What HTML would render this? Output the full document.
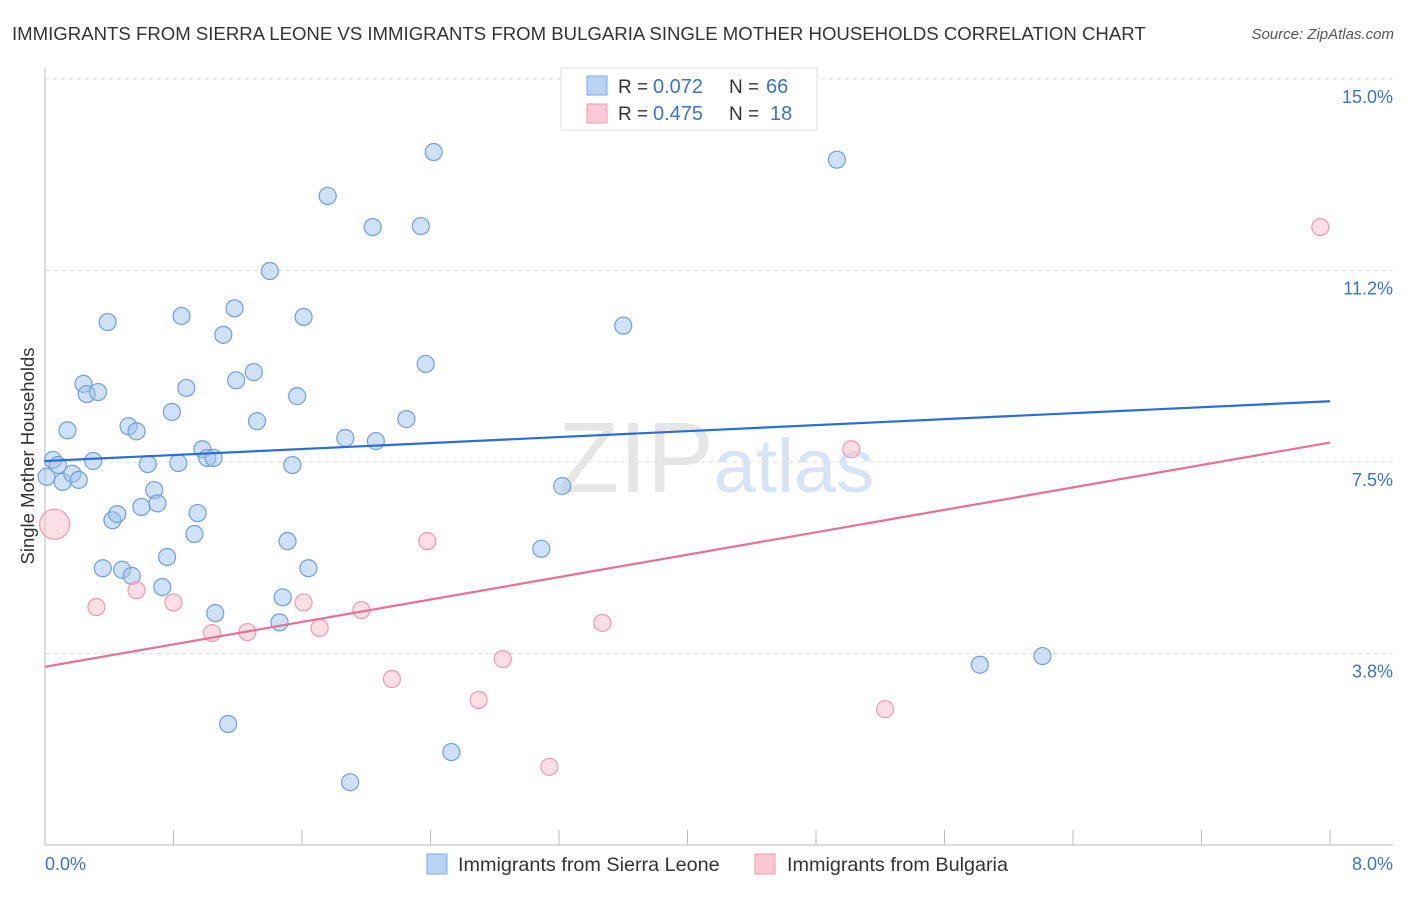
<!DOCTYPE html>
<html><head><meta charset="utf-8"><style>
body{margin:0;background:#fff;font-family:"Liberation Sans",sans-serif}
svg text{font-family:"Liberation Sans",sans-serif}
</style></head><body>
<svg id="c" width="1406" height="892">
<text x="12" y="40" font-size="18.6" fill="#333">IMMIGRANTS FROM SIERRA LEONE VS IMMIGRANTS FROM BULGARIA SINGLE MOTHER HOUSEHOLDS CORRELATION CHART</text>
<text x="1394" y="39" font-size="15" fill="#555" text-anchor="end" font-style="italic">Source: ZipAtlas.com</text>
<text x="558" y="492" font-size="100" fill="#e6e6e6" font-family="Liberation Serif">ZIP<tspan fill="#d6e4f5" font-family="Liberation Sans" font-size="76">atlas</tspan></text>
<g id="grid"></g><g id="axes"></g><g id="pts"></g><g id="lines"></g>
<text transform="translate(34,456) rotate(-90)" font-size="18.5" fill="#333" text-anchor="middle">Single Mother Households</text>
<text x="45" y="870" font-size="18" fill="#3b73c9">0.0%</text>
<text x="1393" y="870" font-size="18" fill="#3b73c9" text-anchor="end">8.0%</text>
<g>
<rect x="561" y="68" width="256" height="62" fill="#fff" stroke="#ddd"/>
<rect x="587" y="76" width="20" height="19" fill="#b9d3f5" stroke="#7fa8e0"/>
<rect x="587" y="104" width="20" height="19" fill="#fac8d6" stroke="#ef9ab3"/>
<text x="618" y="93" font-size="19" fill="#333">R =</text>
<text x="653" y="93" font-size="20" fill="#3b73c9">0.072</text>
<text x="729" y="93" font-size="19" fill="#333">N =</text>
<text x="766" y="93" font-size="20" fill="#3b73c9">66</text>
<text x="618" y="120" font-size="19" fill="#333">R =</text>
<text x="653" y="120" font-size="20" fill="#3b73c9">0.475</text>
<text x="729" y="120" font-size="19" fill="#333">N =</text>
<text x="770" y="120" font-size="20" fill="#3b73c9">18</text>
</g>
<g>
<rect x="427" y="854" width="20" height="20" fill="#b9d3f5" stroke="#7fa8e0"/>
<text x="458" y="871" font-size="19.8" fill="#333">Immigrants from Sierra Leone</text>
<rect x="755" y="854" width="20" height="20" fill="#fac8d6" stroke="#ef9ab3"/>
<text x="787" y="871" font-size="19.8" fill="#333">Immigrants from Bulgaria</text>
</g>
</svg>
<script>
const yTicks=[3.75,7.5,11.25,15];
const yTickLabels=["3.8%","7.5%","11.2%","15.0%"];
const xTicks=[0,0.8,1.6,2.4,3.2,4.0,4.8,5.6,6.4,7.2,8.0];
const blueX=[0.05,0.01,0.08,0.11,0.17,0.21,0.14,0.24,0.26,0.33,0.30,0.39,0.52,0.57,0.42,0.45,0.36,0.48,0.54,0.64,0.60,0.68,0.70,0.79,0.76,0.73,0.85,0.83,0.88,0.93,0.95,0.98,1.01,1.05,1.06,1.11,1.14,1.18,1.19,1.30,1.32,1.40,1.46,1.48,1.51,1.54,1.57,1.61,1.64,1.76,1.87,1.90,2.04,2.06,2.25,2.34,2.37,2.42,2.53,3.09,3.22,3.60,4.93,5.82,6.21];
const blueY=[7.54,7.21,7.44,7.11,7.27,7.15,8.12,9.03,8.83,8.87,7.52,10.24,8.20,8.10,6.36,6.48,5.42,5.39,5.27,7.46,6.62,6.95,6.69,8.48,5.64,5.05,10.36,7.48,8.95,6.09,6.50,7.75,7.58,7.58,4.54,9.99,2.37,10.51,9.10,9.26,8.30,11.24,4.36,4.85,5.95,7.44,8.79,10.34,5.42,12.71,7.97,1.23,12.10,7.91,8.34,12.12,9.42,13.57,1.82,5.80,7.03,10.17,13.42,3.53,3.70];
const pinkX=[0.06,0.32,0.57,0.80,1.04,1.26,1.61,1.71,1.97,2.16,2.38,2.70,2.85,3.14,3.47,5.02,5.23,7.94];
const pinkY=[6.28,4.66,4.99,4.75,4.15,4.17,4.75,4.25,4.60,3.25,5.95,2.84,3.64,1.53,4.35,7.75,2.66,12.10];
const pinkR=[15,8.5,8.5,8.5,8.5,8.5,8.5,8.5,8.5,8.5,8.5,8.5,8.5,8.5,8.5,8.5,8.5,8.5];
const blueTrend=[7.52,8.69];
const pinkTrend=[3.49,7.88];
const X=v=>45+v*(1330-45)/8, Y=v=>845-v*(845-79)/15;
const NS='http://www.w3.org/2000/svg';
function mk(p,t,a){const e=document.createElementNS(NS,t);for(const k in a)e.setAttribute(k,a[k]);document.getElementById(p).appendChild(e);return e;}
yTicks.forEach((t,i)=>{
 const l=mk('grid','line',{x1:45,x2:1393,y1:Y(t),y2:Y(t),stroke:'#ddd','stroke-dasharray':'4,4'});
 
 
 const tx=mk('axes','text',{x:1393,y:Y(t)+24,'font-size':18,fill:'#3b73c9','text-anchor':'end'});
 tx.textContent=yTickLabels[i];
 
 
});
let a=mk('axes','line',{x1:45,x2:45,y1:68,y2:845,stroke:'#bbb'});


a=mk('axes','line',{x1:45,x2:1393,y1:845,y2:845,stroke:'#bbb'});


xTicks.forEach(t=>{
 const l=mk('axes','line',{x1:X(t),x2:X(t),y1:830,y2:845,stroke:'#bbb'});
 
 
});
blueX.forEach((x,i)=>{
 const c=mk('pts','circle',{cx:X(x),cy:Y(blueY[i]),r:8.5,fill:'rgba(160,196,240,0.5)',stroke:'#6f9fde','stroke-width':1.2});
 
 
});
pinkX.forEach((x,i)=>{
 const c=mk('pts','circle',{cx:X(x),cy:Y(pinkY[i]),r:pinkR[i],fill:'rgba(248,190,206,0.5)',stroke:'#ee9ab4','stroke-width':1.2});
 
 
});
let t=mk('lines','line',{x1:X(0),x2:X(8),y1:Y(blueTrend[0]),y2:Y(blueTrend[1]),stroke:'#2a6fd6','stroke-width':2.2});


t=mk('lines','line',{x1:X(0),x2:X(8),y1:Y(pinkTrend[0]),y2:Y(pinkTrend[1]),stroke:'#e76f98','stroke-width':2.2});


</script>
</body></html>
